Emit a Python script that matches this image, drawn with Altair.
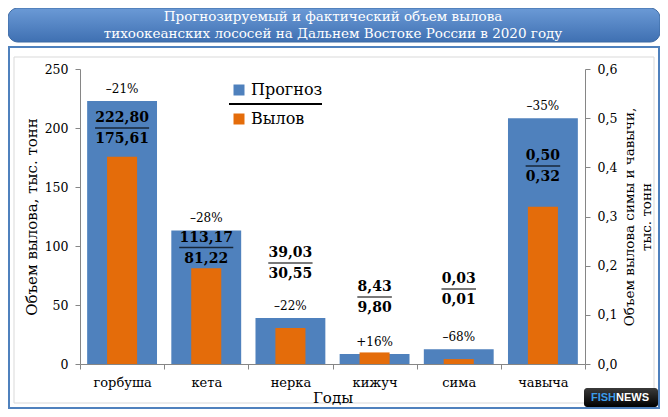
import altair as alt
import pandas as pd

# --- data ---
SPECIES = ["горбуша", "кета", "нерка", "кижуч", "сима", "чавыча"]
FORECAST = [222.80, 113.17, 39.03, 8.43, 0.03, 0.50]   # тыс. тонн
CATCH = [175.61, 81.22, 30.55, 9.80, 0.01, 0.32]       # тыс. тонн
CHANGE = ["–21%", "–28%", "–22%", "+16%", "–68%", "–35%"]
RIGHT_AXIS = ["сима", "чавыча"]  # these two go on the secondary axis

# layout: where each "forecast / catch" pair is written, in left-axis units
LABEL_AT = [208.5, 107.2, 94.1, 65.3, 72.0, 176.3]

BLUE = "#4f81bd"
ORANGE = "#e46c0a"
FONT = "DejaVu Serif"
AXIS_GREY = "#868686"
NUM_SIZE = 14


def ru(v):
    return f"{v:.2f}".replace(".", ",")


df = pd.DataFrame({
    "species": SPECIES,
    "forecast": FORECAST,
    "catch": CATCH,
    "pct": CHANGE,
    "label_at": LABEL_AT,
})
df["num"] = [ru(v) for v in FORECAST]
df["den"] = [ru(v) for v in CATCH]
df_left = df[~df["species"].isin(RIGHT_AXIS)]
df_right = df[df["species"].isin(RIGHT_AXIS)]

COLOR_SCALE = alt.Scale(domain=["Прогноз", "Вылов"], range=[BLUE, ORANGE])
LEGEND = alt.Legend(
    title=None, orient="none", legendX=151, legendY=13,
    symbolType="square", symbolSize=121, symbolStrokeWidth=0,
    labelFont=FONT, labelFontSize=16, labelColor="black",
    labelOffset=4, rowPadding=13, padding=0,
)


def x_enc():
    return alt.X(
        "species:N", sort=SPECIES, title="Годы",
        scale=alt.Scale(domain=SPECIES, paddingInner=0, paddingOuter=0),
        axis=alt.Axis(tickBand="extent", labelAngle=0, tickSize=5,
                      labelPadding=7, titlePadding=1, labelFontSize=13,
                      titleFontSize=15, zindex=1),
    )


def y_left(field):
    return alt.Y(
        field, type="quantitative",
        scale=alt.Scale(domain=[0, 250], nice=False),
        axis=alt.Axis(orient="left", title="Объем вылова, тыс. тонн",
                      values=[0, 50, 100, 150, 200, 250], tickSize=5,
                      labelPadding=7, titlePadding=5, labelFontSize=12.5,
                      titleFontSize=15, zindex=1),
    )


def y_right(field):
    return alt.Y(
        field, type="quantitative",
        scale=alt.Scale(domain=[0, 0.6], nice=False),
        axis=alt.Axis(orient="right",
                      title=["Объем вылова симы и чавычи,", "тыс. тонн"],
                      values=[0, 0.1, 0.2, 0.3, 0.4, 0.5, 0.6],
                      labelExpr="replace(format(datum.value, '.1f'), '.', ',')",
                      tickSize=5, labelPadding=7, titlePadding=3,
                      titleAngle=270, titleFontSize=13.5, titleLineHeight=17,
                      labelFontSize=12.5, zindex=1),
    )


def color_enc():
    return alt.Color("series:N", scale=COLOR_SCALE, legend=LEGEND)


def bars(data, y_fn):
    blue = alt.Chart(data).transform_calculate(
        series="'Прогноз'"
    ).mark_bar(width=alt.RelativeBandSize(0.83)).encode(
        x=x_enc(), y=y_fn("forecast"), color=color_enc(),
    )
    orange = alt.Chart(data).transform_calculate(
        series="'Вылов'"
    ).mark_bar(width=alt.RelativeBandSize(0.357)).encode(
        x=x_enc(), y=y_fn("catch"), color=color_enc(),
    )
    pct = alt.Chart(data).mark_text(dy=-12, fontSize=12, font=FONT,
                                    color="black").encode(
        x=x_enc(), y=y_fn("forecast"), text="pct:N",
    )
    return alt.layer(blue, orange, pct)


left_group = bars(df_left, y_left)
right_group = bars(df_right, y_right)

# forecast (underlined) over catch
y_lab = alt.Y("label_at:Q", scale=alt.Scale(domain=[0, 250], nice=False), axis=None)
num_txt = alt.Chart(df).mark_text(fontSize=NUM_SIZE, fontWeight="bold", font=FONT,
                                  color="black").encode(x=x_enc(), y=y_lab, text="num:N")
den_txt = alt.Chart(df).mark_text(fontSize=NUM_SIZE, fontWeight="bold", font=FONT,
                                  color="black", dy=21).encode(x=x_enc(), y=y_lab, text="den:N")
# underline width follows the text: bold digit ~0.696em, comma ~0.38em
underline = alt.Chart(df).transform_calculate(
    ul=f"(length(datum.num) - 1) * {0.696 * NUM_SIZE} + {0.38 * NUM_SIZE}"
).mark_tick(orient="horizontal", thickness=1.5, yOffset=10, color="black").encode(
    x=x_enc(), y=y_lab, size=alt.Size("ul:Q", scale=None),
)
labels_group = alt.layer(num_txt, den_txt, underline)

# frame, banner, legend divider, logo
one = pd.DataFrame({"k": [0]})
base = alt.Chart(one)
frame = base.mark_rect(fillOpacity=0, stroke=BLUE, strokeWidth=2).encode(
    x=alt.value(-71), x2=alt.value(579), y=alt.value(-22), y2=alt.value(339))
inner = base.mark_rect(fillOpacity=0, stroke="#d9d9d9", strokeWidth=1).encode(
    x=alt.value(-66), x2=alt.value(574), y=alt.value(-12), y2=alt.value(334))
banner = base.mark_rect(
    cornerRadius=10, stroke="#3d6aa3", strokeWidth=1,
    fill={"gradient": "linear", "x1": 0, "y1": 0, "x2": 0, "y2": 1,
          "stops": [{"offset": 0, "color": "#6b9ad6"},
                    {"offset": 1, "color": "#3f70b2"}]},
).encode(x=alt.value(-72), x2=alt.value(580), y=alt.value(-61), y2=alt.value(-27))
title1 = base.mark_text(color="white", fontSize=13.5, font=FONT).encode(
    x=alt.value(253), y=alt.value(-52),
    text=alt.value("Прогнозируемый и фактический объем вылова"))
title2 = base.mark_text(color="white", fontSize=13.5, font=FONT).encode(
    x=alt.value(253), y=alt.value(-35),
    text=alt.value("тихоокеанских лососей на Дальнем Востоке России в 2020 году"))
divider = base.mark_rule(color="black", strokeWidth=2).encode(
    x=alt.value(149), x2=alt.value(242), y=alt.value(35))
logo = base.mark_rect(
    cornerRadius=3,
    fill={"gradient": "linear", "x1": 0, "y1": 0, "x2": 0, "y2": 1,
          "stops": [{"offset": 0, "color": "#3a3a3a"},
                    {"offset": 1, "color": "#000000"}]},
).encode(x=alt.value(504), x2=alt.value(578), y=alt.value(319), y2=alt.value(338))
fish = base.mark_text(color="#3b9be8", fontSize=11, font="Liberation Sans",
                      fontWeight="bold", align="right").encode(
    x=alt.value(536), y=alt.value(329), text=alt.value("FISH"))
news = base.mark_text(color="white", fontSize=11, font="Liberation Sans",
                      fontWeight="bold", align="left").encode(
    x=alt.value(536), y=alt.value(329), text=alt.value("NEWS"))
deco_group = alt.layer(frame, inner, banner, title1, title2, divider, logo, fish, news)

chart = alt.layer(
    deco_group, left_group, right_group, labels_group
).resolve_scale(
    y="independent"
).properties(
    width=505, height=295,
    autosize="none",
    padding={"left": 72, "top": 61, "right": 75, "bottom": 45},
    background="white",
).configure_view(
    strokeWidth=0
).configure_axis(
    labelFont=FONT, titleFont=FONT, labelColor="black", titleColor="black",
    titleFontWeight="normal", domainColor=AXIS_GREY, tickColor=AXIS_GREY,
    grid=False,
)

chart.save("out.html", embed_options={"renderer": "svg", "actions": False})
